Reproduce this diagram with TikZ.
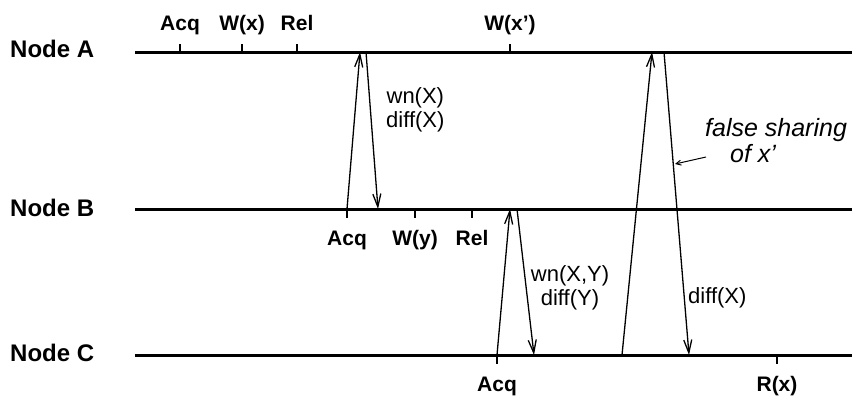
\documentclass[tikz,border=0pt]{standalone}
\usepackage{fontspec}
\setmainfont{Liberation Sans}
\usetikzlibrary{arrows.meta, positioning}

\begin{document}
\begin{tikzpicture}[x=1pt, y=-1pt, >={Straight Barb[length=13pt, width=8pt]},
		font=\fontsize{22}{24}\selectfont,
		proc/.style={line width=3pt},
		msg/.style={->, line width=1.3pt},
		tick/.style={line width=1.2pt},
		ev/.style={font=\fontsize{21}{24}\selectfont\bfseries, inner sep=0pt},
		pname/.style={font=\fontsize{24}{26}\selectfont\bfseries, inner sep=0pt, anchor=west},
		note/.style={align=center, inner sep=0pt},
		remark/.style={inner sep=0pt, anchor=west, font=\fontsize{25}{27}\selectfont\itshape}]
	\useasboundingbox (0,0) rectangle (854,402);

	\node[pname] (nodeA) at (10,49) {Node A};
	\node[pname] (nodeB) at (10,208) {Node B};
	\node[pname] (nodeC) at (10,353) {Node C};

	\coordinate (a0) at (135,52);
	\coordinate (a1) at (852,52);
	\coordinate (b0) at (135,209);
	\coordinate (b1) at (852,209);
	\coordinate (c0) at (135,355);
	\coordinate (c1) at (852,355);
	\draw[proc] (a0) -- (a1);
	\draw[proc] (b0) -- (b1);
	\draw[proc] (c0) -- (c1);

	% events on node A
	\coordinate (acqA) at (180,52);
	\coordinate (wxA) at (242,52);
	\coordinate (relA) at (297,52);
	\coordinate (wxpA) at (510,52);
	\draw[tick] (acqA) -- ++(0,-8) node[ev, anchor=base, yshift=14pt] (lacqA) {Acq};
	\draw[tick] (wxA) -- ++(0,-8) node[ev, anchor=base, yshift=14pt] (lwxA) {W(x)};
	\draw[tick] (relA) -- ++(0,-8) node[ev, anchor=base, yshift=14pt] (lrelA) {Rel};
	\draw[tick] (wxpA) -- ++(0,-8) node[ev, anchor=base, yshift=14pt] (lwxpA) {W(x')};

	% events on node B
	\coordinate (acqB) at (347,209);
	\coordinate (wyB) at (415,209);
	\coordinate (relB) at (472,209);
	\draw[tick] (acqB) -- ++(0,9) node[ev, anchor=base, yshift=-27pt] (lacqB) {Acq};
	\draw[tick] (wyB) -- ++(0,9) node[ev, anchor=base, yshift=-27pt] (lwyB) {W(y)};
	\draw[tick] (relB) -- ++(0,9) node[ev, anchor=base, yshift=-27pt] (lrelB) {Rel};

	% events on node C
	\coordinate (acqC) at (497,355);
	\coordinate (rxC) at (777,355);
	\draw[tick] (acqC) -- ++(0,9) node[ev, anchor=base, yshift=-27pt] (lacqC) {Acq};
	\draw[tick] (rxC) -- ++(0,9) node[ev, anchor=base, yshift=-27pt] (lrxC) {R(x)};

	% messages
	\coordinate (m1) at (360,52);
	\coordinate (m2s) at (366,52);
	\coordinate (m2) at (378,209);
	\coordinate (m3) at (510,209);
	\coordinate (m4s) at (517,209);
	\coordinate (m4) at (534,355);
	\coordinate (m5s) at (622,355);
	\coordinate (m5) at (652,52);
	\coordinate (m6s) at (664,52);
	\coordinate (m6) at (689,355);
	\draw[msg] (acqB) -- (m1);
	\draw[msg] (m2s) -- (m2);
	\draw[msg] (acqC) -- (m3);
	\draw[msg] (m4s) -- (m4);
	\draw[msg] (m5s) -- (m5);
	\draw[msg] (m6s) -- (m6);

	\node[note, anchor=west] (wnX) at (386,110) {wn(X)\\diff(X)};
	\node[note] (wnXY) at (570,288) {wn(X,Y)\\diff(Y)};
	\node[note, anchor=west] (diffX) at (688,298) {diff(X)};

	\node[remark] (fs) at (705,130) {false sharing};
	\node[remark] (ofx) at (730,154) {of x'};
	\coordinate (fst) at (706,157);
	\coordinate (fsp) at (675,164);
	\draw[->, line width=1pt, >={Straight Barb[length=5pt, width=5pt]}] (fst) -- (fsp);
\end{tikzpicture}
\end{document}
